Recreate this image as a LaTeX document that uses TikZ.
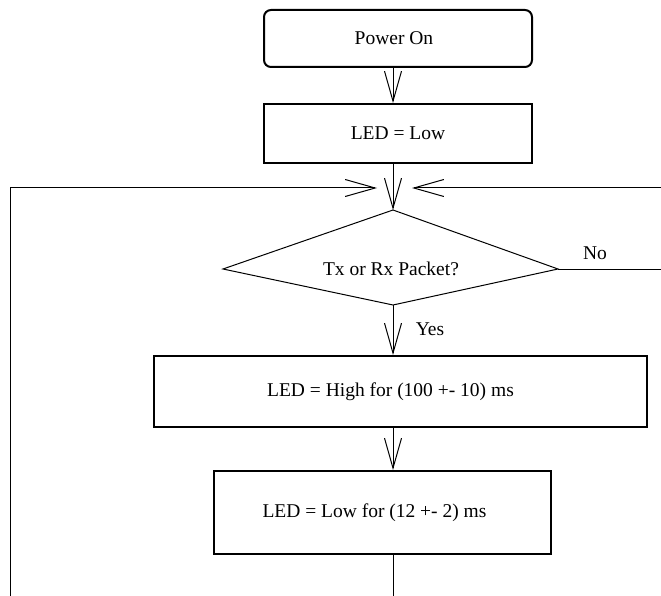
\documentclass[tikz,border=0pt]{standalone}
\usepackage{fontspec}
\setmainfont{Liberation Serif}
\usetikzlibrary{arrows.meta}
\begin{document}
\begin{tikzpicture}[x=1pt, y=-1pt,
    flow/.style={line width=1pt, -{Straight Barb[length=30pt, width=17pt, line width=1pt]}},
    wire/.style={line width=1pt},
    proc/.style={draw, line width=2pt, inner sep=0pt, font=\fontsize{19.5}{23}\selectfont},
    txt/.style={inner sep=0pt, font=\fontsize{19.5}{23}\selectfont}]
  \useasboundingbox (0,0) rectangle (661,596);

  \node[proc, rounded corners=7pt, minimum width=268pt, minimum height=57pt] (power) at (398, 38.5) {\hspace*{-8pt}Power On};
  \node[proc, minimum width=268pt, minimum height=59pt] (ledlow) at (398, 133.5) {LED = Low};
  \node[proc, minimum width=493pt, minimum height=71pt] (ledhigh) at (400.5, 391.5) {\hspace*{-20pt}LED = High for (100 +- 10) ms};
  \node[proc, minimum width=337pt, minimum height=83pt] (ledpause) at (382.5, 512.5) {\hspace*{-16pt}LED = Low for (12 +- 2) ms};

  % decision
  \coordinate (dtop) at (393, 210);
  \coordinate (dright) at (558, 269);
  \coordinate (dbot) at (393, 305);
  \coordinate (dleft) at (223, 269);
  \draw[wire] (dtop) -- (dright) -- (dbot) -- (dleft) -- cycle;
  \node[txt] (packet) at (391, 269) {Tx or Rx Packet?};

  \coordinate (join) at (393, 188);
  \coordinate (lcorner) at (10, 188);
  \coordinate (lbot) at (10, 596);
  \coordinate (ltip) at (377, 188);
  \coordinate (rtop) at (661, 188);
  \coordinate (rtip) at (412, 188);
  \coordinate (rno) at (661, 269);
  \coordinate (bend) at (393, 596);

  \draw[flow] (power.south -| join) -- (ledlow.north -| join);
  \draw[flow] (ledlow.south -| join) -- (dtop);
  \draw[flow] (dbot) -- (ledhigh.north -| join);
  \draw[flow] (ledhigh.south -| join) -- (ledpause.north -| join);
  \draw[wire] (ledpause.south -| join) -- (bend);

  % loops back
  \draw[flow] (lbot) -- (lcorner) -- (ltip);
  \draw[wire] (dright) -- (rno);
  \draw[flow] (rtop) -- (rtip);

  \node[txt] (no) at (595, 253) {No};
  \node[txt] (yes) at (430, 329) {Yes};
\end{tikzpicture}
\end{document}
